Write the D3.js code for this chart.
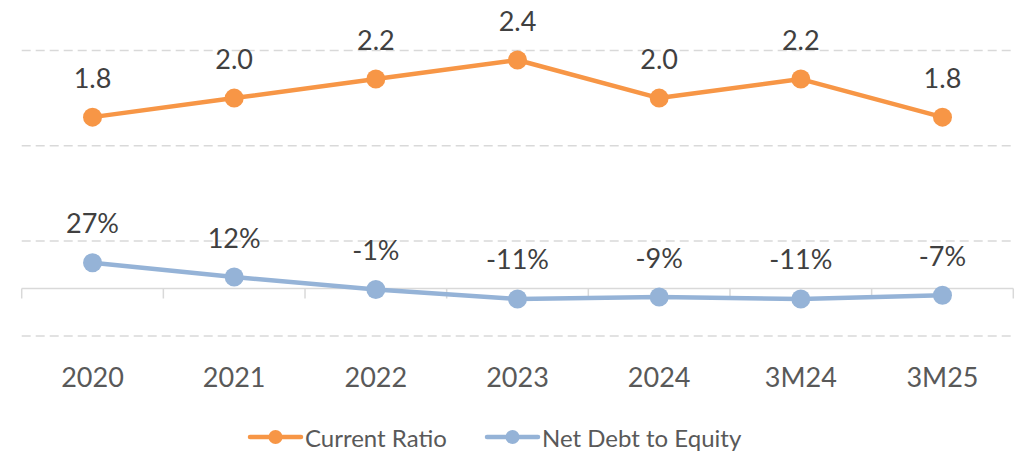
<!DOCTYPE html>
<html>
<head>
<meta charset="utf-8">
<script src="https://cdn.jsdelivr.net/npm/d3@7/dist/d3.min.js"></script>
<style>
  html, body { margin: 0; padding: 0; background: #ffffff; }
  svg { display: block; font-family: Lato, "Open Sans", sans-serif; }
</style>
</head>
<body>
<svg id="chart" width="1015" height="452"></svg>
<script>
// Periods on the x axis
const categories = ["2020", "2021", "2022", "2023", "2024", "3M24", "3M25"];
// Current ratio (times)
const currentRatio = [1.8, 2.0, 2.2, 2.4, 2.0, 2.2, 1.8];
// Net debt to equity (fraction)
const netDebtToEquity = [0.27, 0.12, -0.01, -0.11, -0.09, -0.11, -0.07];
// Dashed horizontal gridlines
const gridValues = [2.5, 1.5, 0.5, -0.5];
const seriesNames = ["Current Ratio", "Net Debt to Equity"];

const plot = { left: 21.7, right: 1013.3, zero: 288.5, unit: 95.2 };

const svg = d3.select("#chart");

const x = d3.scaleBand()
  .domain(categories)
  .range([plot.left, plot.right])
  .paddingInner(0).paddingOuter(0);

const y = d3.scaleLinear()
  .domain([0, 1])
  .range([plot.zero, plot.zero - plot.unit]);

const cx = d => x(d) + x.bandwidth() / 2;

// plain hyphen for negatives
const hyphen = s => s.replace("\u2212", "-");

// gridlines
svg.append("g")
  .selectAll("line")
  .data(gridValues)
  .join("line")
  .attr("x1", plot.left).attr("x2", plot.right)
  .attr("y1", d => y(d)).attr("y2", d => y(d))
  .attr("stroke", "#d9d9d9")
  .attr("stroke-width", 1.5)
  .attr("stroke-dasharray", "9,5");

// category axis at zero
const xAxis = d3.axisBottom(x).tickSize(0).tickPadding(0).tickFormat("");
const axisG = svg.append("g")
  .attr("transform", `translate(0,${y(0)})`)
  .call(xAxis);
axisG.select(".domain").remove();
axisG.append("line")
  .attr("x1", plot.left).attr("x2", plot.right)
  .attr("stroke", "#d9d9d9").attr("stroke-width", 1.5);
// tick marks at band boundaries
const boundaries = categories.map(c => x(c)).concat([plot.right]);
axisG.selectAll(".bound")
  .data(boundaries)
  .join("line")
  .attr("class", "bound")
  .attr("x1", d => d).attr("x2", d => d)
  .attr("y1", 0).attr("y2", 10)
  .attr("stroke", "#d9d9d9").attr("stroke-width", 1.5);

// category labels
svg.append("g")
  .selectAll("text")
  .data(categories)
  .join("text")
  .attr("x", d => cx(d))
  .attr("y", 386.5)
  .attr("text-anchor", "middle")
  .attr("font-size", 27)
  .attr("fill", "#595959")
  .text(d => d);

const line = d3.line()
  .x((d, i) => cx(categories[i]))
  .y(d => y(d));

function drawSeries(values, color, fmt) {
  const g = svg.append("g");
  g.append("path")
    .datum(values)
    .attr("d", line)
    .attr("fill", "none")
    .attr("stroke", color)
    .attr("stroke-width", 4.5)
    .attr("stroke-linejoin", "round");
  g.selectAll("circle")
    .data(values)
    .join("circle")
    .attr("cx", (d, i) => cx(categories[i]))
    .attr("cy", d => y(d))
    .attr("r", 9.5)
    .attr("fill", color);
  g.selectAll("text")
    .data(values)
    .join("text")
    .attr("x", (d, i) => cx(categories[i]))
    .attr("y", d => y(d) - 29.5)
    .attr("text-anchor", "middle")
    .attr("font-size", 27)
    .attr("fill", "#404040")
    .text(fmt);
}

drawSeries(currentRatio, "#f79646", d => hyphen(d3.format(".1f")(d)));
drawSeries(netDebtToEquity, "#95b3d7", d => hyphen(d3.format(".0f")(d * 100)) + "%");

// legend
const legendItems = [
  { name: seriesNames[0], color: "#f79646", x0: 250, x1: 301, tx: 305 },
  { name: seriesNames[1], color: "#95b3d7", x0: 487, x1: 538, tx: 542 }
];
const legendY = 437;
const lg = svg.append("g");
legendItems.forEach(it => {
  lg.append("line")
    .attr("x1", it.x0).attr("x2", it.x1)
    .attr("y1", legendY).attr("y2", legendY)
    .attr("stroke", it.color).attr("stroke-width", 4.5)
    .attr("stroke-linecap", "round");
  lg.append("circle")
    .attr("cx", (it.x0 + it.x1) / 2).attr("cy", legendY)
    .attr("r", 7).attr("fill", it.color);
  lg.append("text")
    .attr("x", it.tx).attr("y", 446.5)
    .attr("font-size", 24)
    .attr("fill", "#595959")
    .text(it.name);
});
</script>
</body>
</html>
